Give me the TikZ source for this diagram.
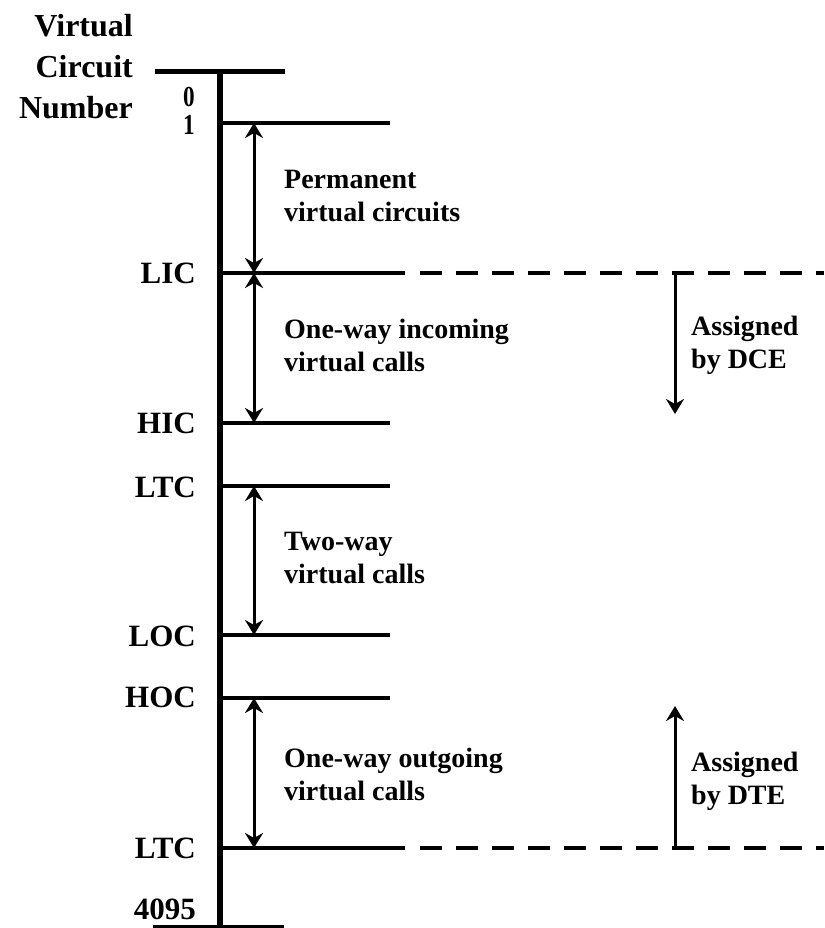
\documentclass[tikz,border=0pt]{standalone}
\usepackage{fontspec}
\setmainfont{Liberation Serif}
\usetikzlibrary{arrows.meta}
\begin{document}
\begin{tikzpicture}[x=1pt,y=-1pt,
  every node/.style={inner sep=0pt},
  axis/.style={line width=6pt},
  level/.style={line width=4pt},
  ext/.style={line width=4pt, dash pattern=on 22pt off 14pt},
  tip/.tip={Stealth[length=15pt,width=18pt,inset=5pt]},
  span/.style={line width=3pt, tip-tip},
  dir/.style={line width=3pt, -tip},
  lbl/.style={anchor=east, align=right, font=\fontsize{31}{41}\selectfont\bfseries},
  digit/.style={anchor=east, xscale=0.8, font=\fontsize{29}{29}\selectfont\bfseries},
  txt/.style={anchor=west, align=left, font=\fontsize{28}{33}\selectfont\bfseries}]
\useasboundingbox (0,0) rectangle (824,928);

% axis and end caps
\coordinate (top) at (220,72);
\coordinate (bot) at (220,930);
\coordinate (capTL) at (155,72);
\coordinate (capTR) at (285,72);
\coordinate (capBL) at (153,926.5);
\coordinate (capBR) at (284,926.5);
\draw[line width=5pt] (capTL) -- (capTR);
\draw[line width=2.5pt] (capBL) -- (capBR);
\draw[axis] (top) -- (bot);

% level marks on the axis
\foreach \n/\y in {one/123, lic/273, hic/423, ltcA/486, loc/635, hoc/698, ltcB/848}
  \coordinate (\n) at (220,\y);
\foreach \n in {one, hic, ltcA, loc, hoc}
  \draw[level] (\n) -- ++(170,0) coordinate (\n-end);
\draw[level] (lic) -- ++(185,0) coordinate (lic-end);
\draw[level] (ltcB) -- ++(185,0) coordinate (ltcB-end);
\coordinate (licD) at (420,273);
\coordinate (licR) at (824,273);
\coordinate (ltcD) at (420,848);
\coordinate (ltcR) at (824,848);
\draw[ext] (licD) -- (licR);
\draw[ext] (ltcD) -- (ltcR);

% range arrows
\coordinate (a1) at (254,123); \coordinate (a2) at (254,273);
\coordinate (a3) at (254,423); \coordinate (a4) at (254,486);
\coordinate (a5) at (254,635); \coordinate (a6) at (254,698);
\coordinate (a7) at (254,848);
\draw[span] (a1) -- (a2);
\draw[span] (a2) -- (a3);
\draw[span] (a4) -- (a5);
\draw[span] (a6) -- (a7);

% assignment direction arrows
\coordinate (dceS) at (675,275); \coordinate (dceE) at (675,414);
\coordinate (dteS) at (675,846); \coordinate (dteE) at (675,706);
\draw[dir] (dceS) -- (dceE);
\draw[dir] (dteS) -- (dteE);

% axis labels
\node[lbl, font=\fontsize{32}{41}\selectfont\bfseries] (title) at (133,67) {Virtual\\Circuit\\Number};
\node[digit] (n0) at (195,97) {0};
\node[digit] (n1) at (195,125) {1};
\node[lbl] (Llic) at (196,273) {LIC};
\node[lbl] (Lhic) at (196,423) {HIC};
\node[lbl] (Lltc) at (196,487) {LTC};
\node[lbl] (Lloc) at (196,636) {LOC};
\node[lbl] (Lhoc) at (196,697) {HOC};
\node[lbl] (Lltc2) at (196,848) {LTC};
\node[lbl] (Lmax) at (196,909) {4095};

% range descriptions
\node[txt] (pvc) at (284,196) {Permanent\\virtual circuits};
\node[txt] (inc) at (284,345) {One-way incoming\\virtual calls};
\node[txt] (two) at (284,558) {Two-way\\virtual calls};
\node[txt] (out) at (284,774) {One-way outgoing\\virtual calls};
\node[txt] (dce) at (691,345) {Assigned\\by DCE};
\node[txt] (dte) at (691,781) {Assigned\\by DTE};
\end{tikzpicture}
\end{document}
